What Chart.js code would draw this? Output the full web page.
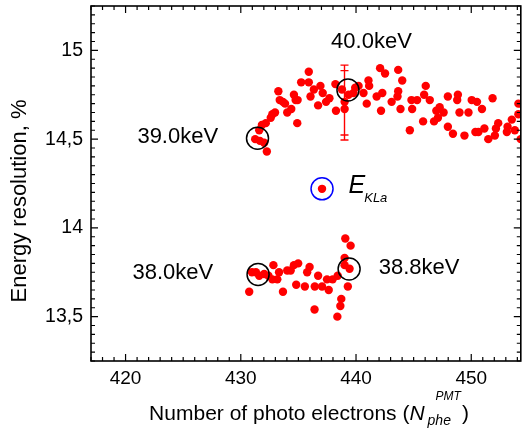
<!DOCTYPE html>
<html><head><meta charset="utf-8">
<script src="https://cdn.jsdelivr.net/npm/chart.js@4.4.1/dist/chart.umd.min.js"></script>
<style>html,body{margin:0;padding:0;background:#fff}</style>
</head><body>
<canvas id="c" width="525" height="432"></canvas>
<script>
// ---- data ----
const upperX = [431.25,431.66,432.03,432.26,431.6,431.83,432.17,432.6,432.74,432.97,433.26,433.38,433.66,433.84,434.03,434.38,434.61,434.76,434.93,434.9,435.24,435.9,435.9,436.05,436.34,436.91,436.71,437.11,437.4,437.69,438.21,438.26,438.78,439.01,439.01,439.35,439.78,439.93,440.22,440.65,440.93,441.08,441.14,441.79,442.09,442.28,442.52,442.17,443.09,443.66,443.66,443.6,444.01,443.86,444.67,444.81,444.87,445.3,445.82,446.05,445.91,446.4,446.77,446.97,447.11,447.26,447.6,447.97,447.97,448.41,448.84,448.78,448.98,449.41,449.76,450.04,450.5,450.36,450.62,450.93,451.14,451.48,451.85,452.05,452.14,452.34,453.09,453.15,453.52,453.78,454.09,454.09,454.29];
const upperY = [14.50,14.49,14.48,14.43,14.55,14.58,14.59,14.62,14.64,14.65,14.77,14.72,14.71,14.70,14.65,14.67,14.75,14.72,14.72,14.59,14.82,14.88,14.82,14.74,14.78,14.80,14.69,14.76,14.71,14.73,14.81,14.66,14.78,14.71,14.67,14.75,14.76,14.79,14.80,14.76,14.70,14.83,14.80,14.74,14.90,14.76,14.87,14.66,14.71,14.89,14.77,14.74,14.83,14.67,14.55,14.72,14.67,14.72,14.60,14.80,14.75,14.72,14.60,14.66,14.62,14.68,14.65,14.74,14.57,14.53,14.75,14.72,14.65,14.52,14.65,14.72,14.71,14.54,14.54,14.67,14.56,14.50,14.73,14.52,14.56,14.59,14.54,14.57,14.61,14.55,14.64,14.70,14.50];
const lowerX = [430.73,430.97,431.31,431.6,432.03,432.4,432.74,432.83,433.17,433.32,433.66,434.03,434.33,434.61,434.98,434.81,435.56,435.76,435.97,436.4,436.42,436.71,437.05,437.48,437.63,437.97,438.41,438.72,438.64,438.38,439.01,439.44,439.29,439.01,439.53,439.07];
const lowerY = [13.64,13.75,13.75,13.73,13.74,13.73,13.71,13.79,13.71,13.75,13.64,13.76,13.76,13.79,13.80,13.68,13.67,13.75,13.78,13.54,13.67,13.73,13.67,13.71,13.65,13.71,13.73,13.60,13.56,13.50,13.79,13.77,13.67,13.83,13.90,13.94];
const eklaX = [437.05];
const eklaY = [14.22];
// error bar at 40.0 keV: x, outer low/high, inner low/high
const errBarX = [439.0];
const errBarOuter = [14.495, 14.917];
const errBarInner = [14.523, 14.886];
// black marker circles and their labels
const markX = [431.45, 439.3, 431.5, 439.4];
const markY = [14.505, 14.777, 13.738, 13.768];
const keVText = ['39.0keV', '40.0keV', '38.0keV', '38.8keV'];
const keVX = [424.53, 441.34, 424.1, 445.47];
const keVY = [14.512, 15.047, 13.746, 13.774];
const eLabelX = [439.35];
const eLabelY = [14.195];
// axes
const xTickValues = [420, 430, 440, 450];
const yTickValues = [13.5, 14, 14.5, 15];
const xRange = [417, 454.3];
const yRange = [13.25, 15.25];

const FONT = '"Liberation Sans", Arial, sans-serif';
const toPts = (xs, ys) => xs.map((x, i) => ({x: x, y: ys[i]}));

const deco = {
  id: 'deco',
  beforeDatasetsDraw(chart) {
    const ctx = chart.ctx, xs = chart.scales.x, ys = chart.scales.y;
    ctx.save();
    ctx.strokeStyle = '#ff0000';
    ctx.lineWidth = 1.4;
    const px = xs.getPixelForValue(errBarX[0]);
    const y0 = ys.getPixelForValue(errBarOuter[0]), y1 = ys.getPixelForValue(errBarOuter[1]);
    ctx.beginPath();
    ctx.moveTo(px, y0); ctx.lineTo(px, y1);
    [errBarOuter[0], errBarOuter[1], errBarInner[0], errBarInner[1]].forEach(v => {
      const py = ys.getPixelForValue(v);
      ctx.moveTo(px - 4, py); ctx.lineTo(px + 4, py);
    });
    ctx.stroke();
    ctx.restore();
  },
  afterDatasetsDraw(chart) {
    const ctx = chart.ctx, xs = chart.scales.x, ys = chart.scales.y, ca = chart.chartArea;
    ctx.save();
    // marker circles
    ctx.lineWidth = 1.5;
    ctx.strokeStyle = '#000';
    markX.forEach((x, i) => {
      ctx.beginPath();
      ctx.arc(xs.getPixelForValue(x), ys.getPixelForValue(markY[i]), 11, 0, Math.PI * 2);
      ctx.stroke();
    });
    ctx.strokeStyle = '#0000ff';
    ctx.beginPath();
    ctx.arc(xs.getPixelForValue(eklaX[0]), ys.getPixelForValue(eklaY[0]), 11, 0, Math.PI * 2);
    ctx.stroke();
    // keV labels
    ctx.fillStyle = '#000';
    ctx.font = '22px ' + FONT;
    ctx.textAlign = 'center';
    ctx.textBaseline = 'middle';
    keVText.forEach((t, i) => ctx.fillText(t, xs.getPixelForValue(keVX[i]), ys.getPixelForValue(keVY[i])));
    // E_KLa
    ctx.textAlign = 'left';
    ctx.textBaseline = 'alphabetic';
    const ex = xs.getPixelForValue(eLabelX[0]), ey = ys.getPixelForValue(eLabelY[0]);
    ctx.font = 'italic 25px ' + FONT;
    ctx.fillText('E', ex, ey);
    const we = ctx.measureText('E').width;
    ctx.font = 'italic 13px ' + FONT;
    ctx.fillText('KLa', ex + we - 1, ey + 8.5);
    // box
    ctx.strokeStyle = '#000';
    ctx.lineWidth = 1.6;
    ctx.strokeRect(ca.left, ca.top, ca.right - ca.left, ca.bottom - ca.top);
    // ticks (inward, all four sides)
    ctx.lineWidth = 1.2;
    ctx.beginPath();
    for (let v = Math.ceil(xRange[0]); v <= xRange[1]; v++) {
      const p = xs.getPixelForValue(v);
      const L = (v % 10 === 0) ? 7 : 4;
      ctx.moveTo(p, ca.bottom); ctx.lineTo(p, ca.bottom - L);
      ctx.moveTo(p, ca.top); ctx.lineTo(p, ca.top + L);
    }
    for (let k = Math.ceil(yRange[0] / 0.05 - 1e-6); k * 0.05 <= yRange[1] + 1e-6; k++) {
      const p = ys.getPixelForValue(k * 0.05);
      const L = (k % 10 === 0) ? 7 : 4;
      ctx.moveTo(ca.left, p); ctx.lineTo(ca.left + L, p);
      ctx.moveTo(ca.right, p); ctx.lineTo(ca.right - L, p);
    }
    ctx.stroke();
    ctx.restore();
  },
  afterDraw(chart) {
    const ctx = chart.ctx;
    ctx.save();
    ctx.fillStyle = '#000';
    ctx.textBaseline = 'alphabetic';
    ctx.textAlign = 'left';
    // x title
    const t1 = 'Number of photo electrons (';
    ctx.font = '21px ' + FONT; const w1 = ctx.measureText(t1).width; const wp = ctx.measureText(')').width;
    ctx.font = 'italic 21px ' + FONT; const wN = ctx.measureText('N').width;
    ctx.font = 'italic 14px ' + FONT; const wSub = ctx.measureText('phe').width;
    ctx.font = 'italic 12px ' + FONT; const wSup = ctx.measureText('PMT').width;
    const subOff = 3, supOff = 11;
    const tail = Math.max(subOff + wSub, supOff + wSup) + 1;
    const W = w1 + wN + tail + wp;
    const x0 = 309 - W / 2, base = 420;
    ctx.font = '21px ' + FONT; ctx.fillText(t1, x0, base);
    ctx.font = 'italic 21px ' + FONT; ctx.fillText('N', x0 + w1, base);
    const nEnd = x0 + w1 + wN;
    ctx.font = 'italic 14px ' + FONT; ctx.fillText('phe', nEnd + subOff, base + 5);
    ctx.font = 'italic 12px ' + FONT; ctx.fillText('PMT', nEnd + supOff, base - 20);
    ctx.font = '21px ' + FONT; ctx.fillText(')', nEnd + tail, base);
    // y title
    ctx.translate(26, 201);
    ctx.rotate(-Math.PI / 2);
    ctx.textAlign = 'center';
    ctx.font = '22px ' + FONT;
    ctx.fillText('Energy resolution, %', 0, 0);
    ctx.restore();
  }
};

new Chart(document.getElementById('c'), {
  type: 'scatter',
  data: {
    datasets: [
      {data: toPts(upperX, upperY), backgroundColor: '#ff0000', borderWidth: 0, pointRadius: 4.2},
      {data: toPts(lowerX, lowerY), backgroundColor: '#ff0000', borderWidth: 0, pointRadius: 4.2},
      {data: toPts(eklaX, eklaY), backgroundColor: '#ff0000', borderWidth: 0, pointRadius: 4.2}
    ]
  },
  options: {
    responsive: false,
    animation: false,
    devicePixelRatio: 1,
    layout: {padding: {top: 6, right: 2, left: 0, bottom: 0}},
    plugins: {legend: {display: false}, tooltip: {enabled: false}},
    scales: {
      x: {
        type: 'linear', min: xRange[0], max: xRange[1],
        grid: {display: false, drawTicks: false},
        border: {display: false},
        afterBuildTicks: s => { s.ticks = xTickValues.map(v => ({value: v})); },
        afterFit: s => { s.height = 71; s.paddingLeft = 0; s.paddingRight = 0; },
        ticks: {padding: 6, color: '#000', font: {family: FONT, size: 19}, maxRotation: 0, autoSkip: false}
      },
      y: {
        type: 'linear', min: yRange[0], max: yRange[1],
        grid: {display: false, drawTicks: false},
        border: {display: false},
        afterBuildTicks: s => { s.ticks = yTickValues.map(v => ({value: v})); },
        afterFit: s => { s.width = 91; s.paddingTop = 0; s.paddingBottom = 0; },
        ticks: {padding: 8, color: '#000', font: {family: FONT, size: 19.5}, autoSkip: false,
                callback: v => String(v).replace('.', ',')}
      }
    }
  },
  plugins: [deco]
});
</script>
</body></html>
